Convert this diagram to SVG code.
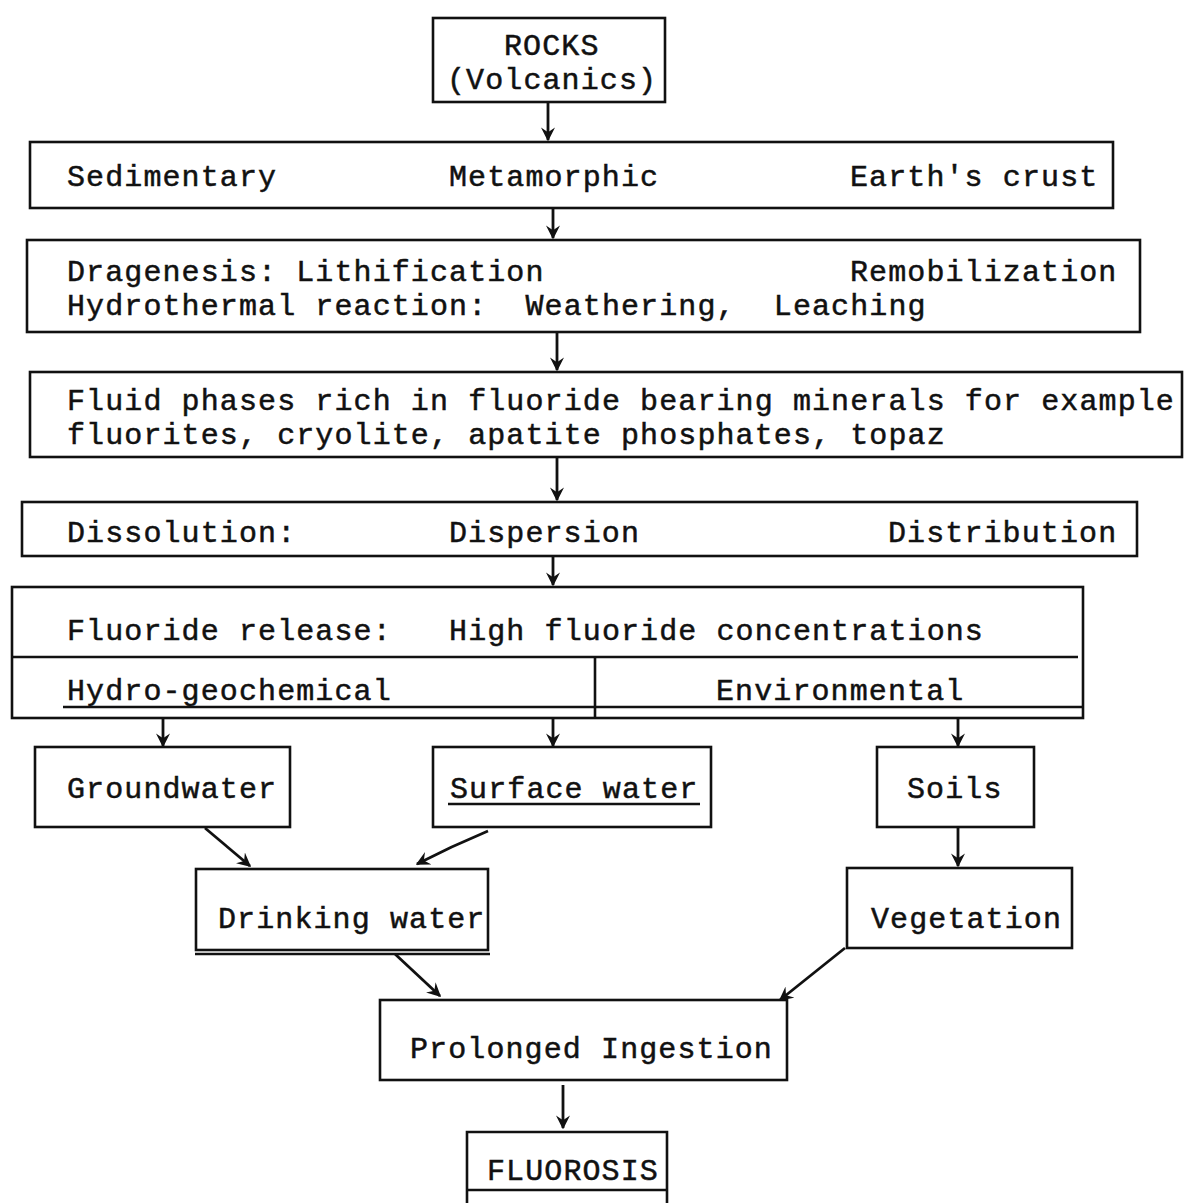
<svg xmlns="http://www.w3.org/2000/svg" width="1184" height="1203" viewBox="0 0 1184 1203">
  <defs>
    <style>
      .box { fill: none; stroke: #111; stroke-width: 2.6; }
      .ln { fill: none; stroke: #111; stroke-width: 2.6; }
      .conn { fill: none; stroke: #111; stroke-width: 2.8; marker-end: url(#ah); }
      text { font-family: "Liberation Mono", "Courier New", monospace; font-size: 30px; letter-spacing: 1.1px; fill: #111; stroke: #111; stroke-width: 0.5px; white-space: pre; }
    </style>
    <marker id="ah" viewBox="0 0 10 10" markerWidth="14" markerHeight="14" refX="9" refY="5" orient="auto" markerUnits="userSpaceOnUse">
      <path d="M0,0 L10,5 L0,10 L3.5,5 z" fill="#111"/>
    </marker>
  </defs>
  <rect width="1184" height="1203" fill="#fff"/>

  <g id="rocks">
    <rect class="box" x="433" y="18" width="232" height="84"/>
    <text x="504" y="55">ROCKS</text>
    <text x="447" y="89">(Volcanics)</text>
  </g>

  <g id="crust">
    <rect class="box" x="30" y="142" width="1083" height="66"/>
    <text x="67" y="186">Sedimentary</text>
    <text x="449" y="186">Metamorphic</text>
    <text x="850" y="186">Earth's crust</text>
  </g>

  <g id="processes">
    <rect class="box" x="27" y="240" width="1113" height="92"/>
    <text x="67" y="281">Dragenesis: Lithification</text>
    <text x="850" y="281">Remobilization</text>
    <text x="67" y="315" xml:space="preserve">Hydrothermal reaction:  Weathering,  Leaching</text>
  </g>

  <g id="fluid">
    <rect class="box" x="30" y="372" width="1152" height="85"/>
    <text x="67" y="410">Fluid phases rich in fluoride bearing minerals for example</text>
    <text x="67" y="444">fluorites, cryolite, apatite phosphates, topaz</text>
  </g>

  <g id="dissolution">
    <rect class="box" x="22" y="502" width="1115" height="54"/>
    <text x="67" y="542">Dissolution:</text>
    <text x="449" y="542">Dispersion</text>
    <text x="888" y="542">Distribution</text>
  </g>

  <g id="release">
    <rect class="box" x="12" y="587" width="1071" height="131"/>
    <line class="ln" x1="12" y1="657" x2="1078" y2="657"/>
    <line class="ln" x1="595" y1="657" x2="595" y2="718"/>
    <line class="ln" x1="63" y1="707" x2="1083" y2="707"/>
    <text x="67" y="640" xml:space="preserve">Fluoride release:   High fluoride concentrations</text>
    <text x="67" y="700">Hydro-geochemical</text>
    <text x="716" y="700">Environmental</text>
  </g>

  <g id="groundwater">
    <rect class="box" x="35" y="747" width="255" height="80"/>
    <text x="67" y="798">Groundwater</text>
  </g>

  <g id="surface">
    <rect class="box" x="433" y="747" width="278" height="80"/>
    <text x="450" y="798">Surface water</text>
    <line class="ln" x1="448" y1="804" x2="700" y2="804"/>
  </g>

  <g id="soils">
    <rect class="box" x="877" y="747" width="157" height="80"/>
    <text x="907" y="798">Soils</text>
  </g>

  <g id="drinking">
    <rect class="box" x="196" y="869" width="292" height="81"/>
    <line class="ln" x1="195" y1="954" x2="490" y2="954"/>
    <text x="218" y="928">Drinking water</text>
  </g>

  <g id="vegetation">
    <rect class="box" x="847" y="868" width="225" height="80"/>
    <text x="871" y="928">Vegetation</text>
  </g>

  <g id="ingestion">
    <rect class="box" x="380" y="1000" width="407" height="80"/>
    <text x="410" y="1058">Prolonged Ingestion</text>
  </g>

  <g id="fluorosis">
    <path class="ln" d="M467,1203 V1132 H667 V1203"/>
    <line class="ln" x1="467" y1="1190" x2="667" y2="1190"/>
    <text x="487" y="1180">FLUOROSIS</text>
  </g>

  <g id="connectors">
    <line class="conn" x1="548" y1="103" x2="548" y2="140"/>
    <line class="conn" x1="553" y1="208" x2="553" y2="238"/>
    <line class="conn" x1="557" y1="332" x2="557" y2="370"/>
    <line class="conn" x1="557" y1="457" x2="557" y2="500"/>
    <line class="conn" x1="553" y1="556" x2="553" y2="585"/>
    <line class="conn" x1="163" y1="718" x2="163" y2="746"/>
    <line class="conn" x1="553" y1="718" x2="553" y2="746"/>
    <line class="conn" x1="958" y1="718" x2="958" y2="746"/>
    <line class="conn" x1="205" y1="828" x2="250" y2="866"/>
    <path class="conn" d="M488,831 Q452,846 417,864"/>
    <line class="conn" x1="958" y1="828" x2="958" y2="866"/>
    <line class="conn" x1="395" y1="954" x2="440" y2="996"/>
    <line class="conn" x1="845" y1="948" x2="780" y2="1000"/>
    <line class="conn" x1="563" y1="1085" x2="563" y2="1128"/>
  </g>
</svg>
